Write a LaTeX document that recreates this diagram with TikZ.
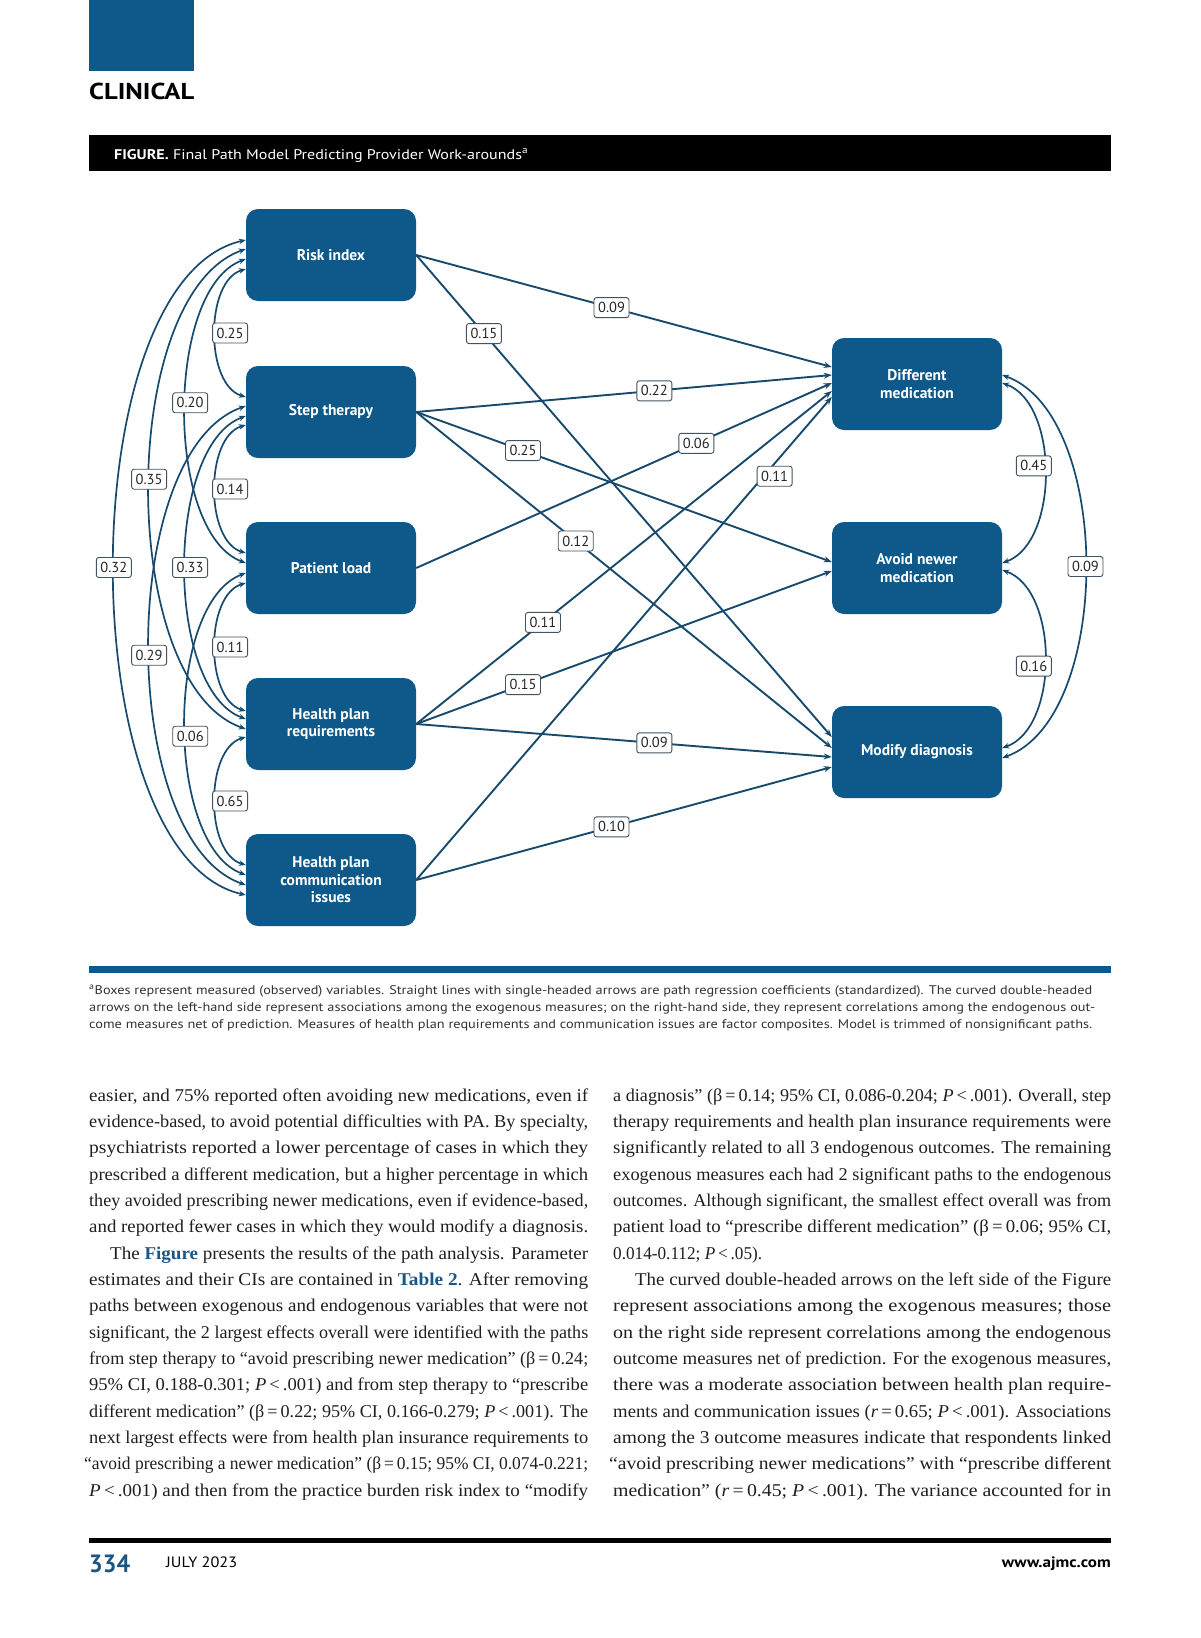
\documentclass[tikz,border=0pt]{standalone}
\usepackage{fontspec}
\usepackage{graphicx}
\setmainfont{Liberation Serif}
\newfontfamily\dinfont{PT Sans}
\usetikzlibrary{arrows.meta}
\definecolor{CBlue}{RGB}{14,89,138}
\definecolor{CLine}{RGB}{24,74,110}
\definecolor{CFrame}{RGB}{66,82,96}
\definecolor{CLink}{RGB}{28,86,132}
\definecolor{CCap}{RGB}{50,50,50}
\newcommand{\fitline}[2]{\resizebox{#1}{\height}{#2}}

\begin{document}
\begin{tikzpicture}[x=1pt, y=-1pt,
    var/.style={fill=CBlue, rounded corners=12pt, minimum width=170pt, minimum height=92pt,
        inner sep=0pt, text=white, align=center, font=\dinfont\bfseries\fontsize{15.5}{17.5}\selectfont},
    coef/.style={draw=CFrame, fill=white, line width=0.9pt, rounded corners=2.5pt,
        minimum width=35pt, minimum height=20pt, inner sep=1pt, text=black!85,
        font=\dinfont\fontsize{14.5}{14.5}\selectfont},
    regr/.style={CLine, line width=1.9pt, -{Stealth[length=8pt, width=6pt]}},
    corr/.style={CLine, line width=1.7pt, {Stealth[length=7pt, width=5.5pt]}-{Stealth[length=7pt, width=5.5pt]}},
    body/.style={anchor=base west, inner sep=0pt, text=black!88, font=\fontsize{18}{26}\selectfont},
    note/.style={anchor=base west, inner sep=0pt, text=CCap, font=\dinfont\fontsize{12.5}{16}\selectfont},
    head/.style={anchor=base west, inner sep=0pt}]

    \fill[white] (0,0) rectangle (1200,1638);
    \useasboundingbox (0,0) rectangle (1200,1638);

    % header
    \fill[CBlue] (89,0) rectangle (194,71);
    \node[head, font=\dinfont\bfseries\fontsize{23}{23}\selectfont] (section) at (89,99) {\fitline{105pt}{CLINICAL}};
    \fill[black] (89,135) rectangle (1111,171);
    \node[head, text=white, font=\dinfont\fontsize{14}{14}\selectfont] (title) at (114,159)
        {\fitline{414pt}{\textbf{FIGURE.} Final Path Model Predicting Provider Work-arounds\textsuperscript{a}}};

    % exogenous measures
    \node[var] (risk)   at (331,255) {Risk index};
    \node[var] (step)   at (331,412) {Step therapy};
    \node[var] (load)   at (331,568) {Patient load};
    \node[var] (hpreq)  at (331,724) {Health plan\\requirements};
    \node[var] (hpcomm) at (331,880) {Health plan\\communication\\issues};

    % endogenous outcomes
    \node[var] (diffmed)  at (917,384) {Different\\medication};
    \node[var] (avoidnew) at (917,568) {Avoid newer\\medication};
    \node[var] (moddiag)  at (917,752) {Modify diagnosis};

    % path coefficients
    \draw[regr] (risk.east)   -- node[coef, pos=0.47]  (p1)  {0.09} ([yshift=17pt]diffmed.west);
    \draw[regr] (risk.east)   -- node[coef, pos=0.163] (p2)  {0.15} ([yshift=15pt]moddiag.west);
    \draw[regr] (step.east)   -- node[coef, pos=0.573] (p3)  {0.22} ([yshift=9pt]diffmed.west);
    \draw[regr] (step.east)   -- node[coef, pos=0.257] (p4)  {0.25} ([yshift=6pt]avoidnew.west);
    \draw[regr] (step.east)   -- node[coef, pos=0.384] (p5)  {0.12} ([yshift=4pt]moddiag.west);
    \draw[regr] (load.east)   -- node[coef, pos=0.674] (p6)  {0.06} ([yshift=1pt]diffmed.west);
    \draw[regr] (hpreq.east)  -- node[coef, pos=0.305] (p7)  {0.11} ([yshift=-7pt]diffmed.west);
    \draw[regr] (hpreq.east)  -- node[coef, pos=0.257] (p8)  {0.15} ([yshift=-3pt]avoidnew.west);
    \draw[regr] (hpreq.east)  -- node[coef, pos=0.573] (p9)  {0.09} ([yshift=-5pt]moddiag.west);
    \draw[regr] (hpcomm.east) -- node[coef, pos=0.836, xshift=11pt] (p10) {0.11} ([yshift=-13pt]diffmed.west);
    \draw[regr] (hpcomm.east) -- node[coef, pos=0.47]  (p11) {0.10} ([yshift=-15pt]moddiag.west);

    % associations among exogenous measures
    \draw[corr] ([yshift=15pt]risk.west) .. controls +(-176,40) and +(-176,-40) .. node[coef] (c10) {0.32} ([yshift=-15pt]hpcomm.west);
    \draw[corr] ([yshift=6pt]risk.west) .. controls +(-129,45) and +(-129,-45) .. node[coef, pos=0.485] (c8) {0.35} ([yshift=-5pt]hpreq.west);
    \draw[corr] ([yshift=6pt]step.west) .. controls +(-129,45) and +(-129,-45) .. node[coef, pos=0.515] (c9) {0.29} ([yshift=-5pt]hpcomm.west);
    \draw[corr] ([yshift=-4pt]risk.west) .. controls +(-81,30) and +(-81,-30) .. node[coef, pos=0.48, xshift=5pt] (c5) {0.20} ([yshift=5pt]load.west);
    \draw[corr] ([yshift=-4pt]step.west) .. controls +(-81,30) and +(-81,-30) .. node[coef, xshift=5pt] (c6) {0.33} ([yshift=5pt]hpreq.west);
    \draw[corr] ([yshift=-5pt]load.west) .. controls +(-81,30) and +(-81,-30) .. node[coef, pos=0.53, xshift=5pt] (c7) {0.06} ([yshift=5pt]hpcomm.west);
    \draw[corr] ([yshift=-14pt]risk.west) .. controls +(-41,12) and +(-41,-12) .. node[coef, xshift=15pt] (c1) {0.25} ([yshift=15pt]step.west);
    \draw[corr] ([yshift=-13pt]step.west) .. controls +(-41,12) and +(-41,-12) .. node[coef, xshift=15pt] (c2) {0.14} ([yshift=15pt]load.west);
    \draw[corr] ([yshift=-15pt]load.west) .. controls +(-41,12) and +(-41,-12) .. node[coef, xshift=15pt] (c3) {0.11} ([yshift=13pt]hpreq.west);
    \draw[corr] ([yshift=-13pt]hpreq.west) .. controls +(-41,12) and +(-41,-12) .. node[coef, xshift=15pt] (c4) {0.65} ([yshift=15pt]hpcomm.west);

    % correlations among outcomes
    \draw[corr] ([yshift=9pt]diffmed.east) .. controls +(111,40) and +(111,-40) .. node[coef] (c13) {0.09} ([yshift=-6pt]moddiag.east);
    \draw[corr] ([yshift=1pt]diffmed.east) .. controls +(57,20) and +(57,-20) .. node[coef, pos=0.47, xshift=-11pt] (c11) {0.45} ([yshift=5pt]avoidnew.east);
    \draw[corr] ([yshift=-2pt]avoidnew.east) .. controls +(57,20) and +(57,-20) .. node[coef, pos=0.53, xshift=-11pt] (c12) {0.16} ([yshift=4pt]moddiag.east);

    % figure note
    \draw[CBlue, line width=7pt] (89,969) -- (1111,969);
    \node[note] (cap1) at (89,994) {\fitline{1003pt}{\textsuperscript{a}Boxes represent measured (observed) variables. Straight lines with single-headed arrows are path regression coefficients (standardized). The curved double-headed}};
    \node[note] (cap2) at (89,1011) {\fitline{1006pt}{arrows on the left-hand side represent associations among the exogenous measures; on the right-hand side, they represent correlations among the endogenous out-}};
    \node[note] (cap3) at (89,1028) {\fitline{1003pt}{come measures net of prediction. Measures of health plan requirements and communication issues are factor composites. Model is trimmed of nonsignificant paths.}};

    % left column
    \node[body] (l1)  at (89,1101)    {\fitline{499pt}{easier, and 75\% reported often avoiding new medications, even if}};
    \node[body] (l2)  at (89,1127.4)  {\fitline{499pt}{evidence-based, to avoid potential difficulties with PA. By specialty,}};
    \node[body] (l3)  at (89,1153.7)  {\fitline{499pt}{psychiatrists reported a lower percentage of cases in which they}};
    \node[body] (l4)  at (89,1180.1)  {\fitline{499pt}{prescribed a different medication, but a higher percentage in which}};
    \node[body] (l5)  at (89,1206.4)  {\fitline{499pt}{they avoided prescribing newer medications, even if evidence-based,}};
    \node[body] (l6)  at (89,1232.8)  {\fitline{499pt}{and reported fewer cases in which they would modify a diagnosis.}};
    \node[body] (l7)  at (110,1259.1) {\fitline{478pt}{The \textcolor{CLink}{\textbf{Figure}} presents the results of the path analysis. Parameter}};
    \node[body] (l8)  at (89,1285.5)  {\fitline{499pt}{estimates and their CIs are contained in \textcolor{CLink}{\textbf{Table 2}}. After removing}};
    \node[body] (l9)  at (89,1311.8)  {\fitline{499pt}{paths between exogenous and endogenous variables that were not}};
    \node[body] (l10) at (89,1338.2)  {\fitline{499pt}{significant, the 2 largest effects overall were identified with the paths}};
    \node[body] (l11) at (89,1364.5)  {\fitline{499pt}{from step therapy to “avoid prescribing newer medication” (β\,=\,0.24;}};
    \node[body] (l12) at (89,1390.9)  {\fitline{499pt}{95\% CI, 0.188-0.301; \textit{P}\,<\,.001) and from step therapy to “prescribe}};
    \node[body] (l13) at (89,1417.2)  {\fitline{499pt}{different medication” (β\,=\,0.22; 95\% CI, 0.166-0.279; \textit{P}\,<\,.001). The}};
    \node[body] (l14) at (89,1443.6)  {\fitline{499pt}{next largest effects were from health plan insurance requirements to}};
    \node[body] (l15) at (84,1469.9)  {\fitline{504pt}{“avoid prescribing a newer medication” (β\,=\,0.15; 95\% CI, 0.074-0.221;}};
    \node[body] (l16) at (89,1496.3)  {\fitline{499pt}{\textit{P}\,<\,.001) and then from the practice burden risk index to “modify}};

    % right column
    \node[body] (r1)  at (613,1101)    {\fitline{498pt}{a diagnosis” (β\,=\,0.14; 95\% CI, 0.086-0.204; \textit{P}\,<\,.001). Overall, step}};
    \node[body] (r2)  at (613,1127.4)  {\fitline{498pt}{therapy requirements and health plan insurance requirements were}};
    \node[body] (r3)  at (613,1153.7)  {\fitline{498pt}{significantly related to all 3 endogenous outcomes. The remaining}};
    \node[body] (r4)  at (613,1180.1)  {\fitline{498pt}{exogenous measures each had 2 significant paths to the endogenous}};
    \node[body] (r5)  at (613,1206.4)  {\fitline{498pt}{outcomes. Although significant, the smallest effect overall was from}};
    \node[body] (r6)  at (613,1232.8)  {\fitline{498pt}{patient load to “prescribe different medication” (β\,=\,0.06; 95\% CI,}};
    \node[body] (r7)  at (613,1259.1)  {\fitline{149pt}{0.014-0.112; \textit{P}\,<\,.05).}};
    \node[body] (r8)  at (635,1285.5)  {\fitline{476pt}{The curved double-headed arrows on the left side of the Figure}};
    \node[body] (r9)  at (613,1311.8)  {\fitline{498pt}{represent associations among the exogenous measures; those}};
    \node[body] (r10) at (613,1338.2)  {\fitline{498pt}{on the right side represent correlations among the endogenous}};
    \node[body] (r11) at (613,1364.5)  {\fitline{498pt}{outcome measures net of prediction. For the exogenous measures,}};
    \node[body] (r12) at (613,1390.9)  {\fitline{498pt}{there was a moderate association between health plan require-}};
    \node[body] (r13) at (613,1417.2)  {\fitline{498pt}{ments and communication issues (\textit{r}\,=\,0.65; \textit{P}\,<\,.001). Associations}};
    \node[body] (r14) at (613,1443.6)  {\fitline{498pt}{among the 3 outcome measures indicate that respondents linked}};
    \node[body] (r15) at (609,1469.9)  {\fitline{502pt}{“avoid prescribing newer medications” with “prescribe different}};
    \node[body] (r16) at (613,1496.3)  {\fitline{498pt}{medication” (\textit{r}\,=\,0.45; \textit{P}\,<\,.001). The variance accounted for in}};

    % footer
    \draw[black, line width=5pt] (89,1540) -- (1111,1540);
    \node[head, text=CLink, font=\dinfont\bfseries\fontsize{25}{25}\selectfont] (page) at (89,1572) {\fitline{41pt}{334}};
    \node[head, font=\dinfont\fontsize{15}{15}\selectfont] (issue) at (166,1567) {\fitline{71pt}{JULY 2023}};
    \node[anchor=base east, inner sep=0pt, font=\dinfont\bfseries\fontsize{15}{15}\selectfont] (site) at (1111,1567) {\fitline{109pt}{www.ajmc.com}};
\end{tikzpicture}
\end{document}
